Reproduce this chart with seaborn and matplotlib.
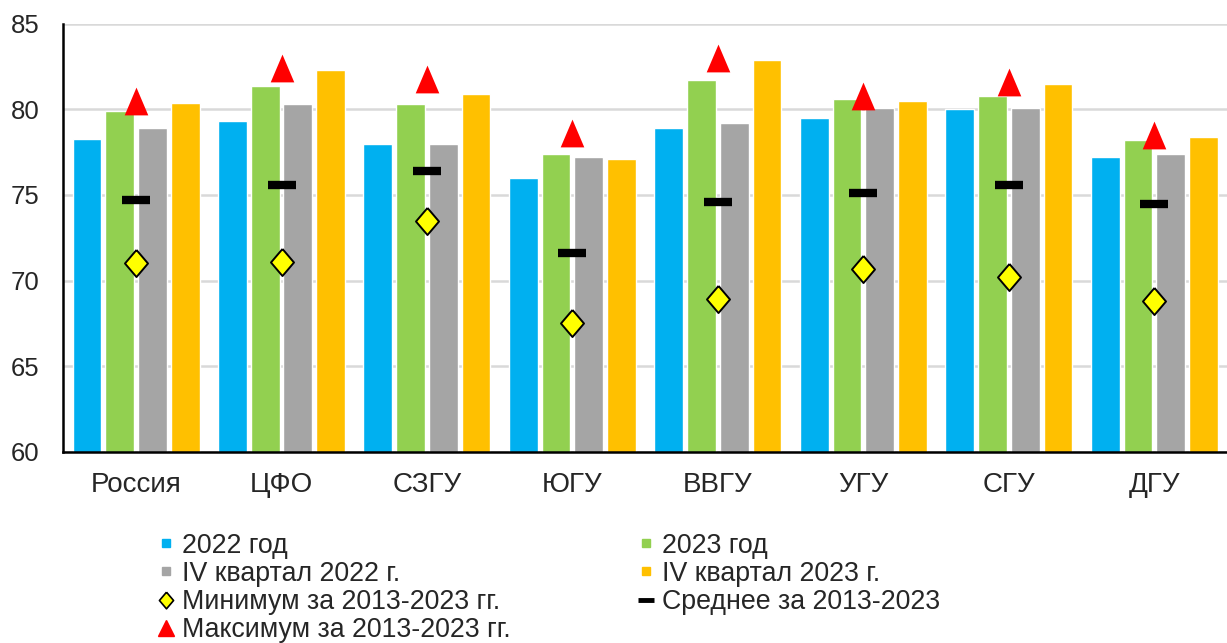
import numpy as np
import pandas as pd
import matplotlib
matplotlib.use('Agg')
import matplotlib.pyplot as plt
from matplotlib.lines import Line2D
import seaborn as sns

# Data
regions = ['Россия', 'ЦФО', 'СЗГУ', 'ЮГУ', 'ВВГУ', 'УГУ', 'СГУ', 'ДГУ']
y2022 = [78.3, 79.3, 78.0, 76.0, 78.9, 79.5, 80.0, 77.2]
y2023 = [79.9, 81.4, 80.3, 77.4, 81.7, 80.6, 80.8, 78.2]
q4_2022 = [78.9, 80.3, 78.0, 77.2, 79.2, 80.1, 80.1, 77.4]
q4_2023 = [80.4, 82.3, 80.9, 77.1, 82.9, 80.5, 81.5, 78.4]
min_13_23 = [71.0, 71.1, 73.5, 67.5, 68.9, 70.7, 70.2, 68.8]
mean_13_23 = [74.7, 75.6, 76.4, 71.6, 74.6, 75.1, 75.6, 74.5]
max_13_23 = [80.5, 82.4, 81.8, 78.6, 83.0, 80.8, 81.6, 78.5]

series = ['2022 год', '2023 год', 'IV квартал 2022 г.', 'IV квартал 2023 г.']
colors = ['#00B0F0', '#92D050', '#A5A5A5', '#FFC000']

df = pd.DataFrame({
    'region': regions * 4,
    'series': np.repeat(series, len(regions)),
    'value': y2022 + y2023 + q4_2022 + q4_2023,
})

sns.set_style('white')
plt.rcParams['font.family'] = ['Liberation Sans', 'DejaVu Sans']

# slightly narrow triangle / diamond like the original markers
tri = [(0, 1), (-0.85, -1), (0.85, -1), (0, 1)]
dia = [(0, 1), (0.85, 0), (0, -1), (-0.85, 0), (0, 1)]

fig = plt.figure(figsize=(12.27, 6.43), dpi=100)
ax = fig.add_axes([0.0516, 0.2978, 0.9484, 0.6649])

sns.barplot(data=df, x='region', y='value', hue='series', palette=colors,
            saturation=1, width=0.9, gap=0.12, ax=ax, legend=False, zorder=2)

x = np.arange(len(regions))
ax.plot(x, mean_13_23, ls='none', marker='_', ms=20, mew=6, color='black', zorder=4)
ax.plot(x, min_13_23, ls='none', marker=dia, ms=19.5, mfc='#FFFF00', mec='black',
        mew=1.4, zorder=4)
ax.plot(x, max_13_23, ls='none', marker=tri, ms=20, color='#FF0000', mew=0, zorder=4)

ax.set_ylim(60, 85)
ax.set_yticks([60, 65, 70, 75, 80, 85])
ax.set_xlim(-0.5, 7.454)
ax.set_xticks(np.arange(-0.5, 8, 1))
ax.set_xticklabels([])
ax.set_xticks(x, minor=True)
ax.set_xticklabels(regions, minor=True)
ax.tick_params(axis='x', which='major', length=7, width=1.5, color='black', direction='out')
ax.tick_params(axis='x', which='minor', length=0, pad=15, labelsize=20)
ax.tick_params(axis='y', length=7, width=1.5, color='black', direction='out',
               labelsize=18.5, pad=10)
ax.yaxis.grid(True, color='#D9D9D9', lw=1.8, zorder=0)
ax.set_axisbelow(True)
ax.set_xlabel('')
ax.set_ylabel('')
sns.despine(ax=ax, top=True, right=True)
for s in ['left', 'bottom']:
    ax.spines[s].set_color('black')
    ax.spines[s].set_linewidth(1.8)

leg_kw = dict(loc='upper left', frameon=False, fontsize=19.3, handlelength=0.8,
              handletextpad=0.2, labelspacing=0.08, borderpad=0, borderaxespad=0)

h_left = [
    Line2D([], [], ls='none', marker='s', ms=5.5, color=colors[0]),
    Line2D([], [], ls='none', marker='s', ms=5.5, color=colors[2]),
    Line2D([], [], ls='none', marker=dia, ms=12, mfc='#FFFF00', mec='black', mew=1.2),
    Line2D([], [], ls='none', marker='^', ms=11, color='#FF0000'),
]
l_left = ['2022 год', 'IV квартал 2022 г.', 'Минимум за 2013-2023 гг.',
          'Максимум за 2013-2023 гг.']
h_right = [
    Line2D([], [], ls='none', marker='s', ms=5.5, color=colors[1]),
    Line2D([], [], ls='none', marker='s', ms=5.5, color=colors[3]),
    Line2D([], [], ls='none', marker='_', ms=11.5, mew=3.5, color='black'),
]
l_right = ['2023 год', 'IV квартал 2023 г.', 'Среднее за 2013-2023']

fig.legend(h_left, l_left, bbox_to_anchor=(155 / 1227, 0.1715), **leg_kw)
fig.legend(h_right, l_right, bbox_to_anchor=(635 / 1227, 0.1715), **leg_kw)

fig.savefig('out.png', dpi=100)
